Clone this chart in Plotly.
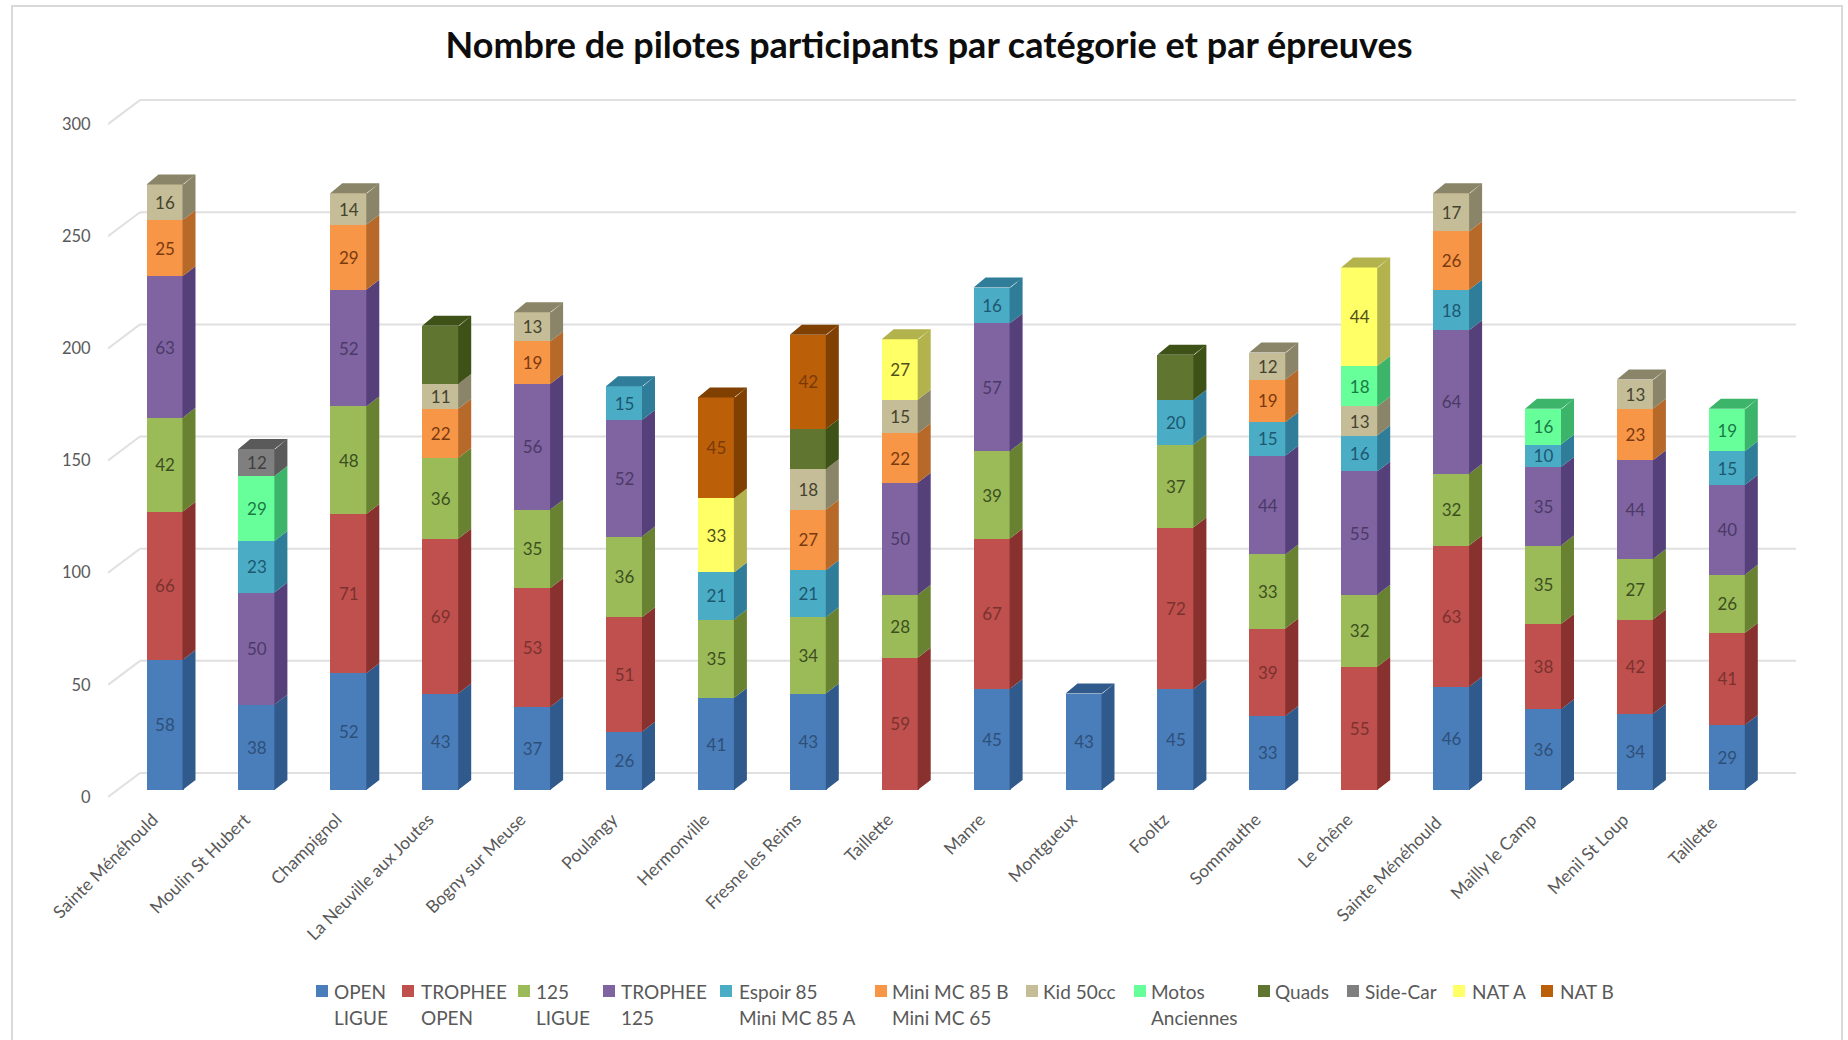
import plotly.graph_objects as go

categories = ["Sainte Ménéhould", "Moulin St Hubert", "Champignol", "La Neuville aux Joutes",
              "Bogny sur Meuse", "Poulangy", "Hermonville", "Fresne les Reims", "Taillette",
              "Manre", "Montgueux", "Fooltz", "Sommauthe", "Le chêne", "Sainte Ménéhould ",
              "Mailly le Camp", "Menil St Loup", "Taillette "]

N = None
open_ligue    = [58, 38, 52, 43, 37, 26, 41, 43, N, 45, 43, 45, 33, N, 46, 36, 34, 29]
trophee_open  = [66, N, 71, 69, 53, 51, N, N, 59, 67, N, 72, 39, 55, 63, 38, 42, 41]
ligue_125     = [42, N, 48, 36, 35, 36, 35, 34, 28, 39, N, 37, 33, 32, 32, 35, 27, 26]
trophee_125   = [63, 50, 52, N, 56, 52, N, N, 50, 57, N, N, 44, 55, 64, 35, 44, 40]
espoir_85     = [N, 23, N, N, N, 15, 21, 21, N, 16, N, 20, 15, 16, 18, 10, N, 15]
mini_85b      = [25, N, 29, 22, 19, N, N, 27, 22, N, N, N, 19, N, 26, N, 23, N]
kid_50        = [16, N, 14, 11, 13, N, N, 18, 15, N, N, N, 12, 13, 17, N, 13, N]
motos         = [N, 29, N, N, N, N, N, N, N, N, N, N, N, 18, N, 16, N, 19]
quads         = [N, N, N, 26, N, N, N, 18, N, N, N, 20, N, N, N, N, N, N]
side_car      = [N, 12, N, N, N, N, N, N, N, N, N, N, N, N, N, N, N, N]
nat_a         = [N, N, N, N, N, N, 33, N, 27, N, N, N, N, 44, N, N, N, N]
nat_b         = [N, N, N, N, N, N, 45, 42, N, N, N, N, N, N, N, N, N, N]

series_names = ["OPEN<br>LIGUE", "TROPHEE<br>OPEN", "125<br>LIGUE", "TROPHEE<br>125",
                "Espoir 85<br>Mini MC 85 A", "Mini MC 85 B<br>Mini MC 65", "Kid 50cc",
                "Motos<br>Anciennes", "Quads", "Side-Car", "NAT A", "NAT B"]
series_values = [open_ligue, trophee_open, ligue_125, trophee_125, espoir_85, mini_85b,
                 kid_50, motos, quads, side_car, nat_a, nat_b]
front_colors = ["#4A7EBB", "#C0504D", "#9BBB59", "#8064A2", "#4BACC6", "#F79646",
                "#C4BD97", "#66FF99", "#5F7530", "#7F7F7F", "#FFFF66", "#BC5F09"]
side_colors = ["#315A8C", "#88312F", "#688232", "#55407A", "#2F7D98", "#B7692A",
               "#8A8568", "#3CB56B", "#3E5218", "#5A5A5A", "#B3B34D", "#7F4002"]
label_colors = ["#2E4F78", "#7A3230", "#3D4F1E", "#4B3A66", "#1C5870", "#7A3A10",
                "#45432F", "#1A7A45", "#3E5218", "#404040", "#50501A", "#7A3A06"]
show_labels = [True] * 8 + [False] + [True] * 3

y_ticks = [0, 50, 100, 150, 200, 250, 300]

# Legend layout of the reference, in pixels of the page
legend_swatch_px = [322, 408, 524, 609, 726, 881, 1032, 1140, 1264, 1353, 1459, 1547]
legend_text_px = [334, 421, 536, 621, 739, 892, 1043, 1151, 1275, 1365, 1472, 1560]
LEGEND_ROW_PX = [991, 1018]

# Geometry of the reference, in pixels of the page
PLOT_L, PLOT_R, PLOT_T, PLOT_B = 108, 1800, 40, 805
ZERO_PX, PX_PER_UNIT = 790, 2.243
FIRST_PX, STEP_PX = 165, 91.9
xval = lambda px: (px - FIRST_PX) / STEP_PX
yval = lambda px: (ZERO_PX - px) / PX_PER_UNIT
BAR_W = 37 / STEP_PX
DEPTH_X, DEPTH_Y = 12 / STEP_PX, 10 / PX_PER_UNIT
WALL_FRONT = -7 / PX_PER_UNIT
WALL_BACK = 17 / PX_PER_UNIT
px2paper_x = lambda px: (px - PLOT_L) / (PLOT_R - PLOT_L)
px2paper_y = lambda px: (PLOT_B - px) / (PLOT_B - PLOT_T)

fig = go.Figure()
xs = list(range(len(categories)))

for name, vals, col, lc, show in zip(series_names, series_values, front_colors, label_colors, show_labels):
    fig.add_trace(go.Bar(
        x=xs, y=vals, name=name, width=BAR_W, marker=dict(color=col, line=dict(width=0)),
        text=[str(v) if (v is not None and show) else "" for v in vals],
        textposition="inside", insidetextanchor="middle", textangle=0, constraintext="none",
        textfont=dict(family="Lato", size=17, color=lc), showlegend=False,
    ))

# Depth faces computed from the stacked values
tops = [0.0] * len(categories)
last_series = [max(k for k, s in enumerate(series_values) if s[i] is not None) for i in xs]
OVERLAP = 1 / STEP_PX
for k, (vals, side) in enumerate(zip(series_values, side_colors)):
    sx, sy, tx, ty = [], [], [], []
    for i, v in enumerate(vals):
        if v is None:
            continue
        base = tops[i]
        r = i + BAR_W / 2
        l = i - BAR_W / 2
        sx += [r - OVERLAP, r + DEPTH_X, r + DEPTH_X, r - OVERLAP, r - OVERLAP, None]
        sy += [base, base + DEPTH_Y, base + v + DEPTH_Y, base + v, base, None]
        tops[i] = base + v
        if last_series[i] == k:
            t = tops[i]
            tx += [l, l + DEPTH_X, r + DEPTH_X, r, l, None]
            ty += [t, t + DEPTH_Y, t + DEPTH_Y, t, t, None]
    fig.add_trace(go.Scatter(x=sx + tx, y=sy + ty, mode="lines", fill="toself", fillcolor=side,
                             line=dict(width=0, color=side), showlegend=False, hoverinfo="skip"))

# Back wall gridlines and the slanted returns
shapes = []
GRID = dict(color="#E0E0E0", width=2)
for v in y_ticks:
    shapes.append(dict(type="line", xref="x", yref="y", layer="below", line=GRID,
                       x0=xval(108), y0=v + WALL_FRONT, x1=xval(140), y1=v + WALL_BACK))
    shapes.append(dict(type="line", xref="x", yref="y", layer="below", line=GRID,
                       x0=xval(140), y0=v + WALL_BACK, x1=xval(1796), y1=v + WALL_BACK))

# Chart frame
shapes.append(dict(type="rect", xref="paper", yref="paper", layer="below",
                   x0=px2paper_x(12), x1=px2paper_x(1842), y0=px2paper_y(1060), y1=px2paper_y(6),
                   line=dict(color="#D9D9D9", width=2), fillcolor="rgba(0,0,0,0)"))

# Legend drawn as swatches and real text so each entry sits at its own place
annotations = []
for name, col, sw, tx in zip(series_names, front_colors, legend_swatch_px, legend_text_px):
    shapes.append(dict(type="rect", xref="paper", yref="paper", line=dict(width=0), fillcolor=col,
                       x0=px2paper_x(sw - 6), x1=px2paper_x(sw + 6),
                       y0=px2paper_y(LEGEND_ROW_PX[0] + 6), y1=px2paper_y(LEGEND_ROW_PX[0] - 6)))
    for row, line in zip(LEGEND_ROW_PX, name.split("<br>")):
        annotations.append(dict(text=line, xref="paper", yref="paper", showarrow=False,
                                x=px2paper_x(tx), y=px2paper_y(row), xanchor="left", yanchor="middle",
                                xshift=-2, font=dict(family="Lato", size=19, color="#595959")))

fig.update_layout(
    width=1848, height=1040,
    margin=dict(l=PLOT_L, r=1848 - PLOT_R, t=PLOT_T, b=1040 - PLOT_B, pad=0),
    paper_bgcolor="white", plot_bgcolor="rgba(0,0,0,0)",
    barmode="stack", shapes=shapes, annotations=annotations,
    font=dict(family="Lato", color="#595959"),
    title=dict(text="<b>Nombre de pilotes participants par catégorie et par épreuves</b>",
               x=929 / 1848, xanchor="center", y=1 - 45 / 1040, yanchor="middle",
               font=dict(family="Lato", size=36, color="#0D0D0D")),
    xaxis=dict(range=[xval(PLOT_L), xval(PLOT_R)], tickmode="array", tickvals=xs, ticktext=categories,
               tickangle=-45, showgrid=False, zeroline=False, showline=False, ticks="",
               ticklabelshift=-12,
               tickfont=dict(family="Lato", size=17.5, color="#595959")),
    yaxis=dict(range=[yval(PLOT_B), yval(PLOT_T)], tickmode="array",
               tickvals=[v + WALL_FRONT for v in y_ticks], ticktext=[str(v) for v in y_ticks],
               showgrid=False, zeroline=False, showline=False,
               ticks="outside", ticklen=13, tickcolor="rgba(0,0,0,0)",
               tickfont=dict(family="Lato", size=16.5, color="#595959")),
    showlegend=False,
)

fig.write_html("out.html", config={"displayModeBar": False},
               post_script="document.body.style.margin='0';")
